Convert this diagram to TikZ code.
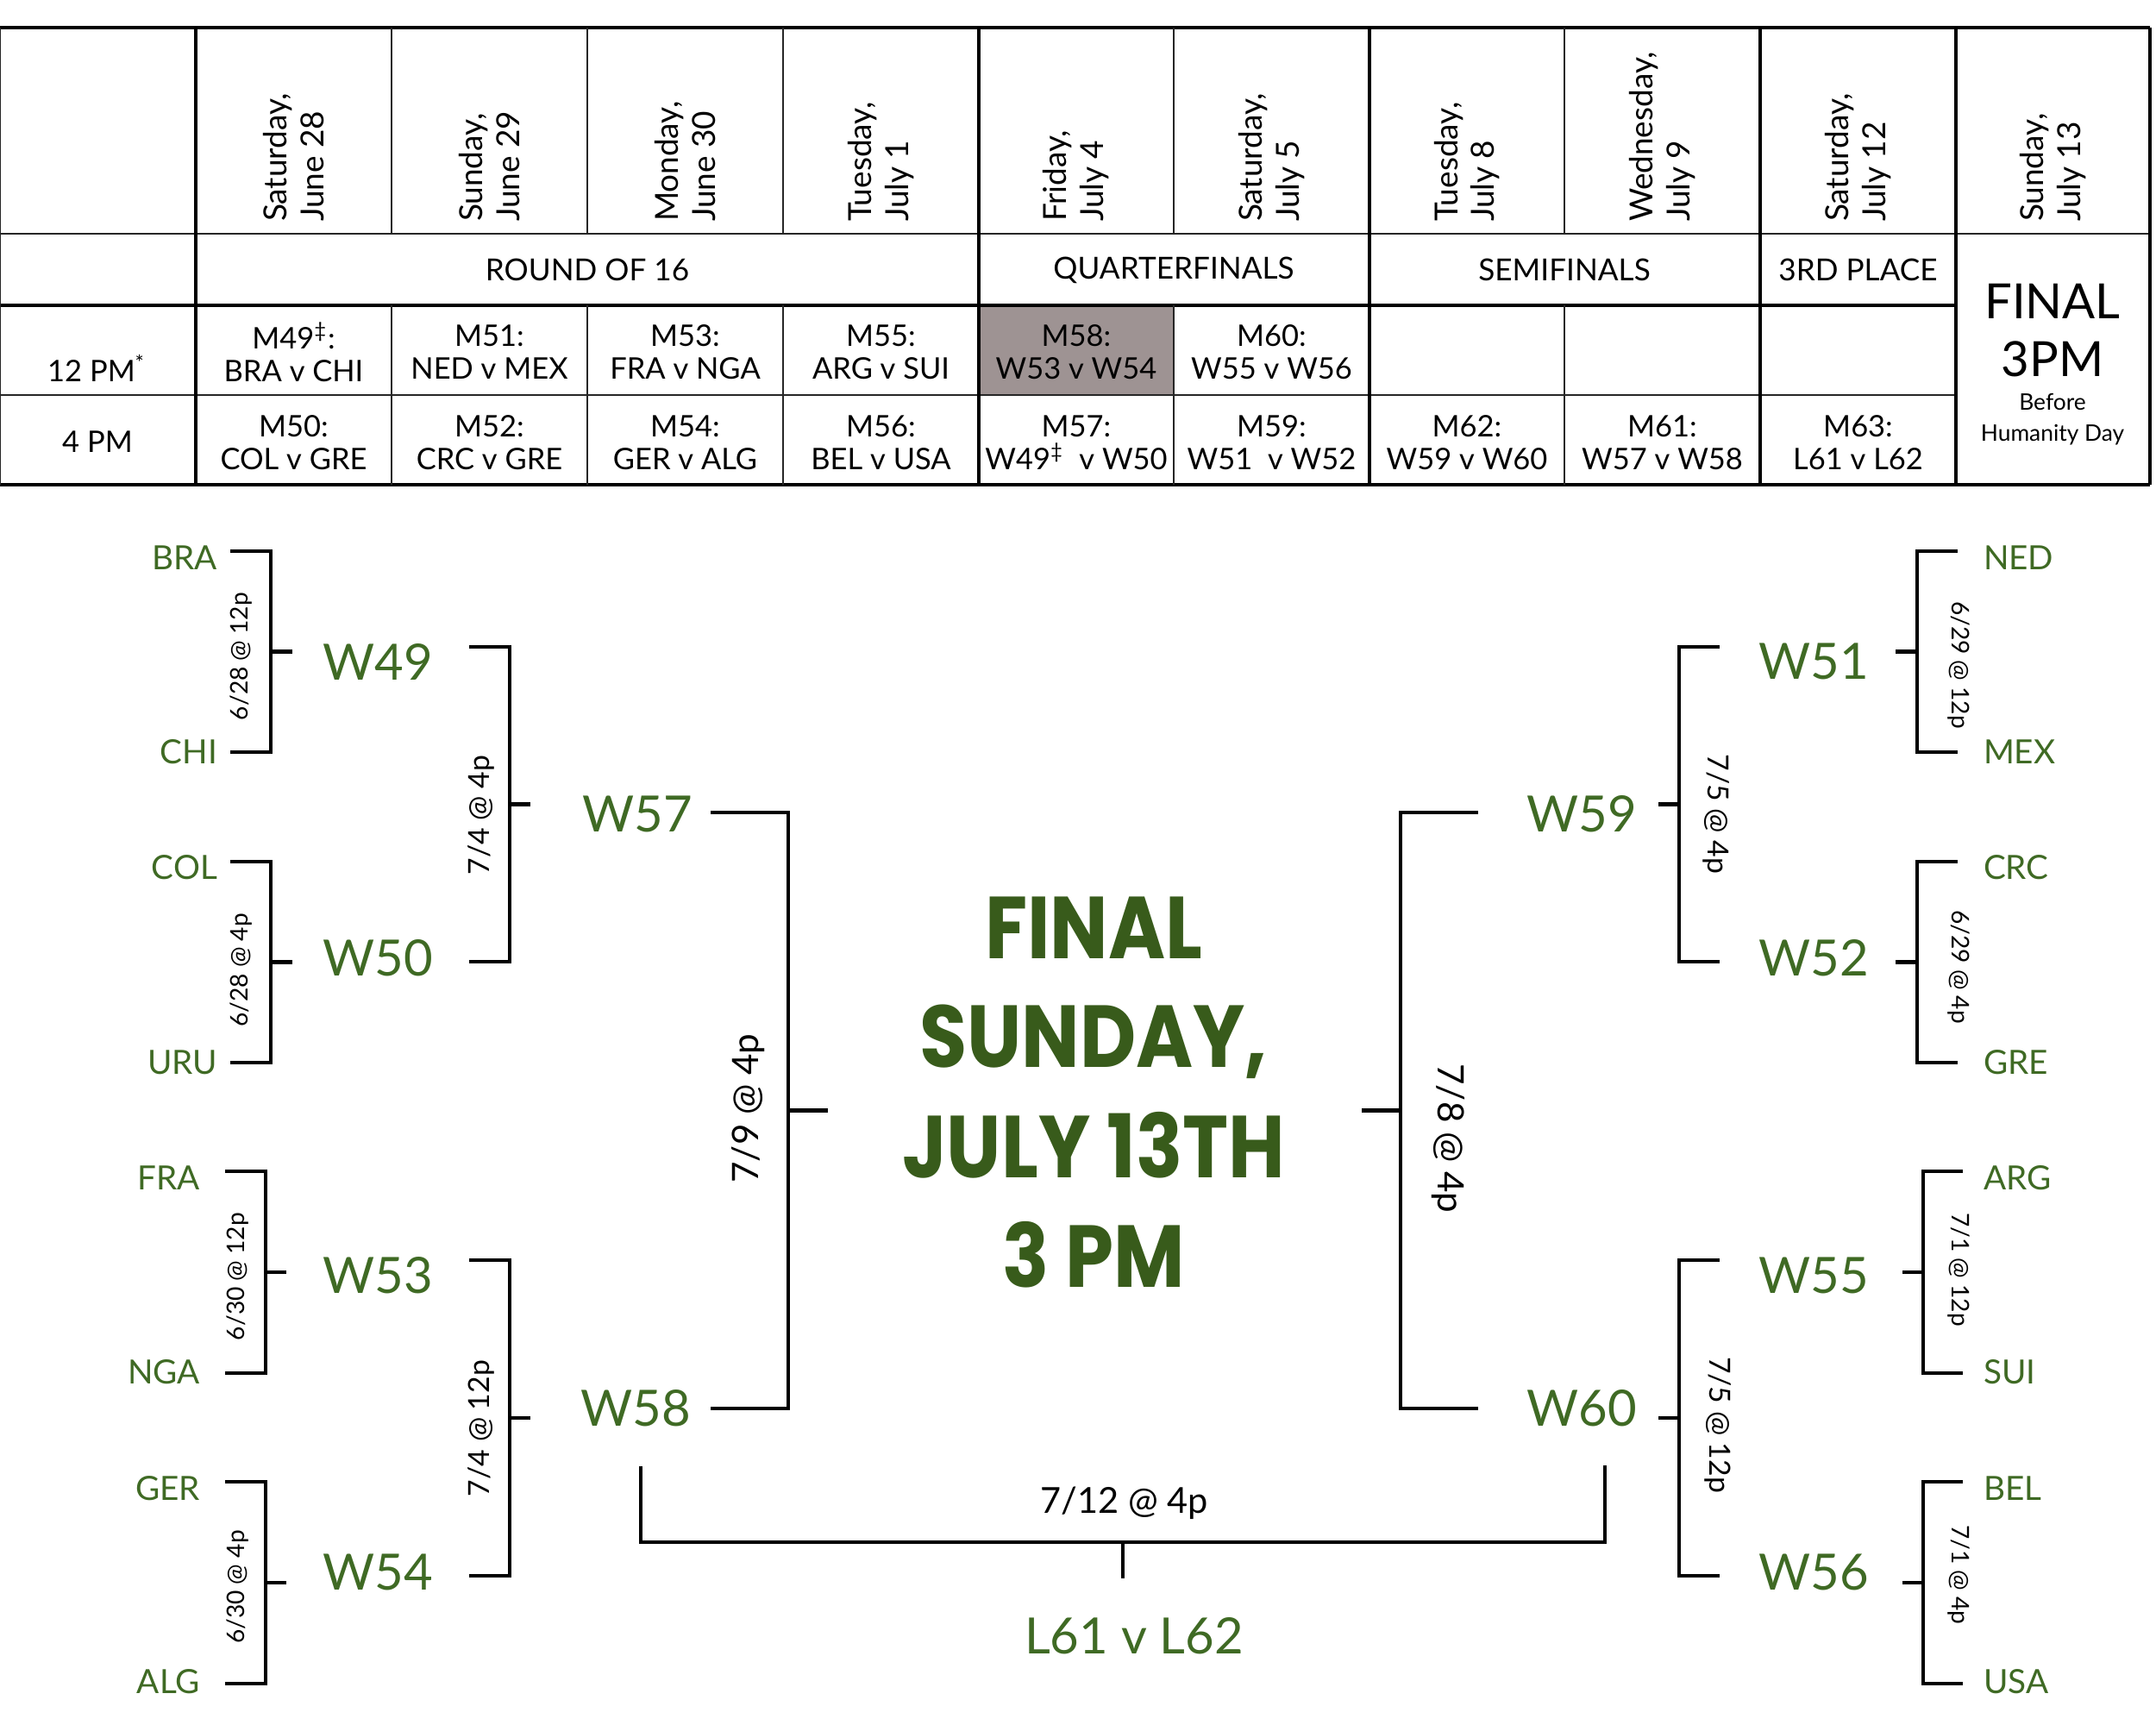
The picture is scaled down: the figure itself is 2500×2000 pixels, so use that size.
\documentclass[tikz,border=0pt]{standalone}
\usepackage{fontspec}
\setmainfont{Lato}
\newfontfamily\finalfont{Poppins}
\definecolor{teamgreen}{HTML}{3F6A24}
\definecolor{finalgreen}{HTML}{385B1B}
\definecolor{cellgrey}{HTML}{9E9393}
\newcommand\bkt[6]{%
  \coordinate (#1t) at (#2,#5);
  \coordinate (#1b) at (#2,#6);
  \coordinate (#1j) at (#3,{(#5+#6)/2});
  \coordinate (#1s) at (#4,{(#5+#6)/2});
  \draw[bline] (#1t) -| (#1j) |- (#1b);
  \draw[bline] (#1j) -- (#1s);}
\newcommand\finsq[1]{\scalebox{0.88}[1]{#1}}
\begin{document}
\begin{tikzpicture}[x=0.01cm,y=-0.01cm,
  every node/.style={inner sep=0pt, outer sep=0pt},
  tline/.style={line width=0.6pt, black!85},
  tthick/.style={line width=1.3pt},
  hdr/.style={rotate=90, anchor=west, align=left, font=\fontsize{10.5}{12.2}\selectfont},
  mcell/.style={align=center, font=\fontsize{9.8}{10.8}\selectfont},
  stage/.style={font=\fontsize{10}{12}\selectfont},
  bline/.style={line width=1.2pt},
  team/.style={text=teamgreen, font=\fontsize{11}{13}\selectfont},
  winr/.style={text=teamgreen, font=\fontsize{16.5}{19}\selectfont},
  labL/.style={rotate=90, font=\fontsize{8}{9}\selectfont},
  labR/.style={rotate=-90, font=\fontsize{8}{9}\selectfont},
  labLq/.style={rotate=90, font=\fontsize{9.6}{11}\selectfont},
  labRq/.style={rotate=-90, font=\fontsize{9.6}{11}\selectfont},
  labLs/.style={rotate=90, font=\fontsize{12}{13}\selectfont},
  labRs/.style={rotate=-90, font=\fontsize{12}{13}\selectfont},
  finst/.style={text=finalgreen, font=\finalfont\bfseries\fontsize{29}{30}\selectfont},
]
\useasboundingbox (0,0) rectangle (2500,2000);
% ---------- table ----------
\fill[cellgrey] (1135,354) rectangle (1361,458);
\draw[tthick] (0,32) -- (2493,32);
\draw[tline] (0,271) -- (2493,271);
\draw[tthick] (0,354) -- (2268,354);
\draw[tline] (0,458) -- (2268,458);
\draw[tthick] (0,562) -- (2493,562);
\draw[tline] (0,32) -- (0,562);
\foreach \x in {227,1135,1588,2041,2268,2493} \draw[tthick] (\x,32) -- (\x,562);
\foreach \x in {454,681,908,1361,1814} {\draw[tline] (\x,32) -- (\x,271); \draw[tline] (\x,354) -- (\x,562);}
% dates
\foreach \cx/\t [count=\i] in {340.5/{Saturday,\\June 28},567.5/{Sunday,\\June 29},794.5/{Monday,\\June 30},1021.5/{Tuesday,\\July 1},1248/{Friday,\\July 4},1474.5/{Saturday,\\July 5},1701/{Tuesday,\\July 8},1927.5/{Wednesday,\\July 9},2154.5/{Saturday,\\July 12},2380.5/{Sunday,\\July 13}}
  \node[hdr] (date\i) at (\cx,257) {\t};
% stages
\node[stage] (r16) at (681,313) {ROUND OF 16};
\node[stage] (qf) at (1361,313) {QUARTERFINALS};
\node[stage] (sf) at (1814,313) {SEMIFINALS};
\node[stage] (tp) at (2154.5,313) {3RD PLACE};
% times
\node[mcell] (t12) at (112,427) {12 PM\textsuperscript{*}};
\node[mcell] (t4) at (113,512) {4 PM};
% matches 12 PM
\foreach \cx/\t [count=\i] in {340.5/{M49\textsuperscript{‡}:\\BRA v CHI},567.5/{M51:\\NED v MEX},794.5/{M53:\\FRA v NGA},1021.5/{M55:\\ARG v SUI},1248/{M58:\\W53 v W54},1474.5/{M60:\\W55 v W56}}
  \node[mcell] (ma\i) at (\cx,408) {\t};
% matches 4 PM
\foreach \cx/\t [count=\i] in {340.5/{M50:\\COL v GRE},567.5/{M52:\\CRC v GRE},794.5/{M54:\\GER v ALG},1021.5/{M56:\\BEL v USA},1248/{M57:\\W49\textsuperscript{‡}\ \ v W50},1474.5/{M59:\\W51\ \ v W52},1701/{M62:\\W59 v W60},1927.5/{M61:\\W57 v W58},2154.5/{M63:\\L61 v L62}}
  \node[mcell] (mb\i) at (\cx,513) {\t};
% final column
\node[font=\fontsize{16}{18}\selectfont] (fcF) at (2380,349) {FINAL};
\node[font=\fontsize{16}{18}\selectfont] (fc3) at (2380,416) {3PM};
\node[font=\fontsize{7.5}{9}\selectfont] (fcB) at (2380,466) {Before};
\node[font=\fontsize{7.5}{9}\selectfont] (fcH) at (2380,504) {Humanity Day};
% ---------- bracket: teams ----------
\node[team, anchor=east] (BRA) at (252,647) {BRA};
\node[team, anchor=east] (CHI) at (252,872) {CHI};
\node[team, anchor=east] (COL) at (252,1006) {COL};
\node[team, anchor=east] (URU) at (252,1232) {URU};
\node[team, anchor=east] (FRA) at (232,1366) {FRA};
\node[team, anchor=east] (NGA) at (232,1591) {NGA};
\node[team, anchor=east] (GER) at (232,1726) {GER};
\node[team, anchor=east] (ALG) at (232,1950) {ALG};
\node[team, anchor=west] (NED) at (2300,647) {NED};
\node[team, anchor=west] (MEX) at (2300,872) {MEX};
\node[team, anchor=west] (CRC) at (2300,1006) {CRC};
\node[team, anchor=west] (GRE) at (2300,1232) {GRE};
\node[team, anchor=west] (ARG) at (2300,1366) {ARG};
\node[team, anchor=west] (SUI) at (2300,1591) {SUI};
\node[team, anchor=west] (BEL) at (2300,1726) {BEL};
\node[team, anchor=west] (USA) at (2300,1950) {USA};
% winners
\node[winr, anchor=east] (W49) at (502,767) {W49};
\node[winr, anchor=east] (W50) at (502,1111) {W50};
\node[winr, anchor=east] (W53) at (502,1479) {W53};
\node[winr, anchor=east] (W54) at (502,1823) {W54};
\node[winr, anchor=east] (W57) at (803,944) {W57};
\node[winr, anchor=east] (W58) at (801,1633) {W58};
\node[winr, anchor=east] (W59) at (1898,944) {W59};
\node[winr, anchor=east] (W60) at (1898,1633) {W60};
\node[winr, anchor=east] (W51) at (2167,767) {W51};
\node[winr, anchor=east] (W52) at (2167,1111) {W52};
\node[winr, anchor=east] (W55) at (2167,1479) {W55};
\node[winr, anchor=east] (W56) at (2167,1823) {W56};
% ---------- bracket lines ----------
\bkt{m49}{267}{314}{339}{639}{872}
\bkt{m50}{267}{314}{339}{999}{1232}
\bkt{m53}{261}{308}{332}{1358}{1592}
\bkt{m54}{261}{308}{332}{1718}{1952}
\bkt{m51}{2270}{2223}{2198}{639}{872}
\bkt{m52}{2270}{2223}{2198}{999}{1232}
\bkt{m55}{2276}{2230}{2206}{1358}{1592}
\bkt{m56}{2276}{2230}{2206}{1718}{1952}
\bkt{m57}{544}{591}{615}{750}{1115}
\bkt{m58}{544}{591}{615}{1461}{1827}
\bkt{m59}{1994}{1947}{1923}{750}{1115}
\bkt{m60}{1994}{1947}{1923}{1461}{1827}
\bkt{m61}{824}{914}{960}{942}{1633}
\bkt{m62}{1714}{1624}{1579}{942}{1633}
% third place
\coordinate (tpL) at (743,1700);
\coordinate (tpR) at (1861,1699);
\coordinate (tpM) at (1302,1788);
\coordinate (tpS) at (1302,1830);
\draw[bline] (tpL) |- (tpM) -| (tpR);
\draw[bline] (tpM) -- (tpS);
\node[font=\fontsize{11.8}{13}\selectfont] (tplab) at (1304,1743) {7/12 @ 4p};
\node[winr] (L6162) at (1315,1897) {L61 v L62};
% ---------- dates on brackets ----------
\node[labL] (d49) at (280,761) {6/28 @ 12p};
\node[labL] (d50) at (280,1125) {6/28 @ 4p};
\node[labL] (d53) at (276,1480) {6/30 @ 12p};
\node[labL] (d54) at (276,1840) {6/30 @ 4p};
\node[labR] (d51) at (2271,771) {6/29 @ 12p};
\node[labR] (d52) at (2271,1121) {6/29 @ 4p};
\node[labR] (d55) at (2271,1472) {7/1 @ 12p};
\node[labR] (d56) at (2271,1826) {7/1 @ 4p};
\node[labLq] (d57) at (558,945) {7/4 @ 4p};
\node[labLq] (d58) at (558,1656) {7/4 @ 12p};
\node[labRq] (d59) at (1990,944) {7/5 @ 4p};
\node[labRq] (d60) at (1992,1652) {7/5 @ 12p};
\node[labLs] (d61) at (868,1285) {7/9 @ 4p};
\node[labRs] (d62) at (1679,1320) {7/8 @ 4p};
% ---------- final ----------
\node[finst, anchor=base] (fin1) at (1268,1111) {\finsq{FINAL}};
\node[finst, anchor=base] (fin2) at (1268,1237) {\finsq{SUNDAY,}};
\node[finst, anchor=base] (fin3) at (1268,1365) {\finsq{JULY 13TH}};
\node[finst, anchor=base] (fin4) at (1268,1492) {\finsq{3 PM}};
\end{tikzpicture}
\end{document}
